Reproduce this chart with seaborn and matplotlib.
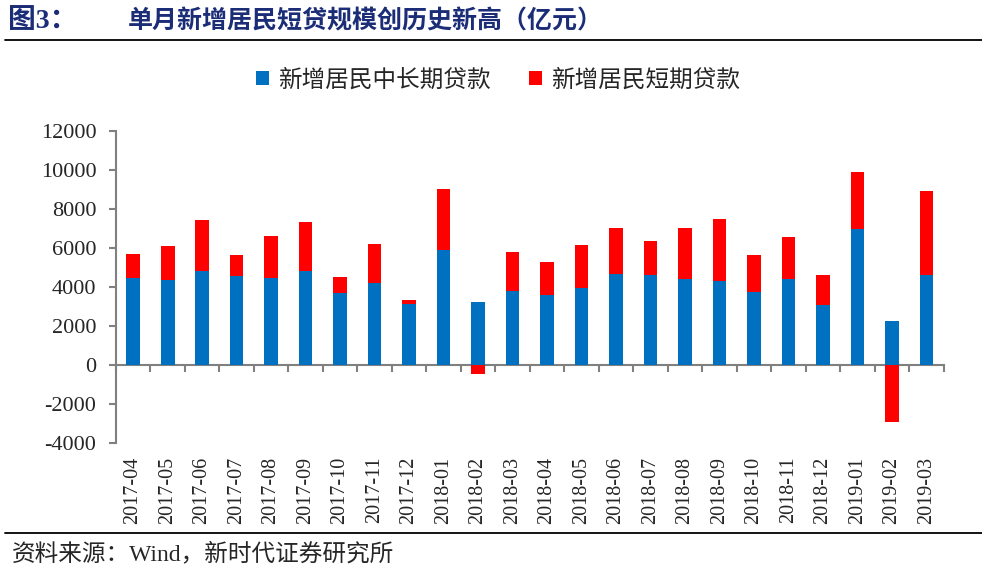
import numpy as np
import pandas as pd
import matplotlib
matplotlib.use("Agg")
import matplotlib.pyplot as plt
import seaborn as sns
from matplotlib.patches import Patch
from matplotlib.lines import Line2D

# monthly data (亿元)
months = ["2017-04", "2017-05", "2017-06", "2017-07", "2017-08", "2017-09",
          "2017-10", "2017-11", "2017-12", "2018-01", "2018-02", "2018-03",
          "2018-04", "2018-05", "2018-06", "2018-07", "2018-08", "2018-09",
          "2018-10", "2018-11", "2018-12", "2019-01", "2019-02", "2019-03"]
long_term = [4440, 4340, 4810, 4540, 4470, 4780, 3700, 4180, 3110, 5890,
             3230, 3770, 3550, 3930, 4640, 4580, 4390, 4290, 3740, 4390,
             3060, 6970, 2220, 4590]
short_term = [1260, 1740, 2630, 1060, 2140, 2540, 800, 2020, 190, 3110,
              -460, 2030, 1740, 2200, 2360, 1740, 2610, 3160, 1890, 2170,
              1540, 2900, -2920, 4300]

BLUE = "#0070C0"
RED = "#FF0000"
GRAY = "#808080"
SERIF_CJK = ["Liberation Serif", "Noto Sans CJK SC", "DejaVu Sans"]

sns.set_style("white")
plt.rcParams["font.family"] = SERIF_CJK
plt.rcParams["axes.unicode_minus"] = False

df = pd.DataFrame({"month": months, "long": long_term, "short": short_term})
# red layer: top of stack when short-term is positive, own negative bar otherwise
df["red_top"] = np.where(df["short"] > 0, df["long"] + df["short"], df["short"])

fig = plt.figure(figsize=(9.82, 5.73), dpi=100)
ax = fig.add_axes([0.118, 0.2274, 0.843, 0.5446])

sns.barplot(data=df, x="month", y="red_top", color=RED, saturation=1,
            width=0.4, linewidth=0, ax=ax)
sns.barplot(data=df, x="month", y="long", color=BLUE, saturation=1,
            width=0.4, linewidth=0, ax=ax)

n = len(months)
ax.set_xlim(-0.5, n - 0.5)
ax.set_ylim(-4000, 12000)
ax.set_yticks(np.arange(-4000, 12001, 2000))
ax.set_xlabel("")
ax.set_ylabel("")

for s in ["top", "right", "bottom"]:
    ax.spines[s].set_visible(False)
ax.spines["left"].set_color(GRAY)
ax.spines["left"].set_linewidth(1.5)

ax.tick_params(axis="y", direction="out", length=5, width=1.5, color=GRAY,
               labelsize=16, pad=9, left=True)
ax.tick_params(axis="x", length=0, labelsize=14.5, pad=10, labelrotation=90)

# zero line with ticks between categories
zero = ax.secondary_xaxis(0.25)
zero.set_xticks(np.arange(-0.5, n, 1.0))
zero.tick_params(direction="out", length=5, width=1.5, color=GRAY,
                 labelbottom=False)
zero.spines["bottom"].set_color(GRAY)
zero.spines["bottom"].set_linewidth(1.5)

handles = [Patch(facecolor=BLUE, edgecolor="none"),
           Patch(facecolor=RED, edgecolor="none")]
fig.legend(handles, ["新增居民中长期贷款", "新增居民短期贷款"],
           loc="center", bbox_to_anchor=(0.507, 0.86), ncol=2, frameon=False,
           handlelength=0.55, handleheight=0.55, handletextpad=0.4,
           columnspacing=1.6, prop={"family": ["Noto Sans CJK SC"], "size": 17})

fig.text(0.008, 0.963, "图3：", ha="left", va="center", fontsize=20,
         fontweight="bold", color="#1c2d78", family=SERIF_CJK)
fig.text(0.130, 0.963, "单月新增居民短贷规模创历史新高（亿元）",
         ha="left", va="center", fontsize=18, fontweight="bold",
         color="#1c2d78", family=SERIF_CJK)
fig.add_artist(Line2D([0.005, 1.0], [0.930, 0.930], color="black", lw=1.3))
fig.add_artist(Line2D([0.005, 1.0], [0.070, 0.070], color="black", lw=1.3))
fig.text(0.012, 0.034, "资料来源：Wind，新时代证券研究所", ha="left",
         va="center", fontsize=17, family=SERIF_CJK)

fig.savefig("out.png", dpi=100)
